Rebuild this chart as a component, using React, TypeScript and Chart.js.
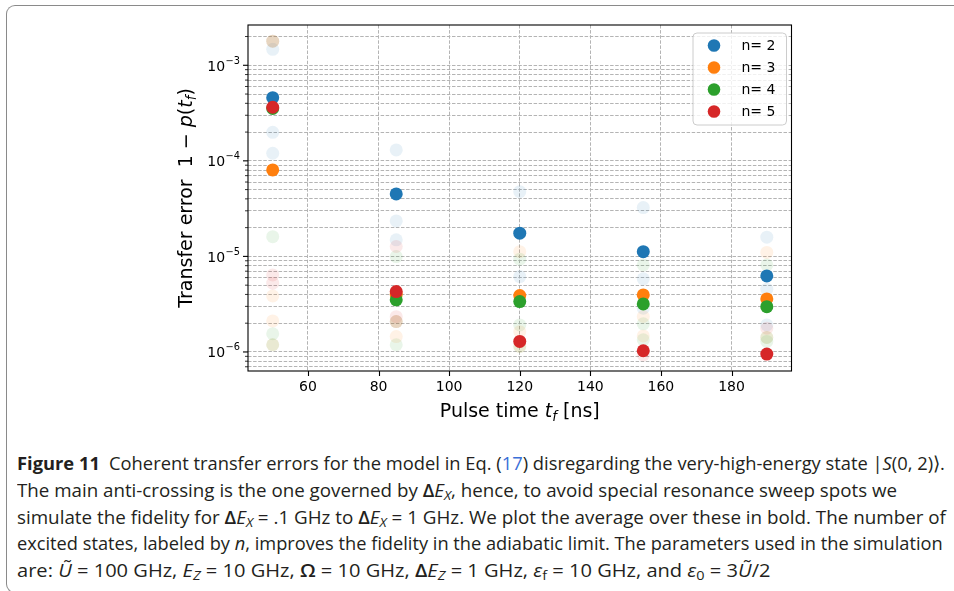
import React, { useEffect, useLayoutEffect, useRef } from "react";
import { Chart, registerables } from "chart.js";

Chart.register(...registerables);

// ---------- data ----------
const pulseTimes = [50, 85, 120, 155, 190];
const seriesLabels = ["n= 2", "n= 3", "n= 4", "n= 5"];
const seriesColors = ["#1f77b4", "#ff7f0e", "#2ca02c", "#d62728"];
const faintColors = [
  "rgba(31,119,180,0.1)",
  "rgba(255,127,14,0.1)",
  "rgba(44,160,44,0.1)",
  "rgba(214,39,40,0.1)",
];

// averaged (bold) transfer errors
const meanN2 = [4.58e-4, 4.51e-5, 1.75e-5, 1.12e-5, 6.25e-6];
const meanN3 = [8.03e-5, 4.0e-6, 3.89e-6, 3.95e-6, 3.59e-6];
const meanN4 = [3.53e-4, 3.51e-6, 3.37e-6, 3.18e-6, 2.98e-6];
const meanN5 = [3.64e-4, 4.28e-6, 1.29e-6, 1.03e-6, 9.5e-7];

// individual sweep values (faint), [pulse time, error]
const sweepN2: [number, number][] = [
  [50, 1.47e-3], [50, 1.99e-4], [50, 1.2e-4],
  [85, 1.3e-4], [85, 2.35e-5], [85, 1.49e-5],
  [120, 4.76e-5], [120, 6.15e-6],
  [155, 3.24e-5], [155, 5.82e-6], [155, 2.87e-6],
  [190, 1.59e-5], [190, 4.54e-6], [190, 1.92e-6],
];
const sweepN3: [number, number][] = [
  [50, 1.79e-3], [50, 3.86e-6], [50, 2.11e-6], [50, 1.19e-6],
  [85, 1.45e-6], [85, 2.08e-6],
  [120, 1.12e-5], [120, 1.63e-6], [120, 1.14e-6],
  [155, 2.35e-6], [155, 1.47e-6],
  [190, 1.1e-5], [190, 1.42e-6],
];
const sweepN4: [number, number][] = [
  [50, 1.79e-3], [50, 1.61e-5], [50, 1.55e-6], [50, 1.19e-6],
  [85, 9.96e-6], [85, 2.08e-6], [85, 1.19e-6],
  [120, 9.35e-6], [120, 1.92e-6], [120, 1.14e-6],
  [155, 8.15e-6], [155, 1.97e-6], [155, 1.34e-6],
  [190, 8.15e-6], [190, 1.29e-6], [190, 1.42e-6],
];
const sweepN5: [number, number][] = [
  [50, 1.79e-3], [50, 6.4e-6], [50, 5.25e-6],
  [85, 1.27e-5], [85, 2.34e-6], [85, 2.08e-6],
  [120, 1.29e-6],
  [155, 9.3e-7],
  [190, 1.77e-6],
];

const xTicks = [60, 80, 100, 120, 140, 160, 180];
const yMajorTicks = [1e-6, 1e-5, 1e-4, 1e-3];
const yTickBase = "10";
const yTickExponents = ["−6", "−5", "−4", "−3"];
const xLimits = [43, 197];
const yLimits = [6.32e-7, 2.64e-3];

type Run = { t: string; it?: boolean; sub?: boolean };
const xTitleRuns: Run[] = [
  { t: "Pulse time " },
  { t: "t", it: true },
  { t: "f", it: true, sub: true },
  { t: " [ns]" },
];
const yTitleRuns: Run[] = [
  { t: "Transfer error  1 − " },
  { t: "p", it: true },
  { t: "(" },
  { t: "t", it: true },
  { t: "f", it: true, sub: true },
  { t: ")" },
];

const means = [meanN2, meanN3, meanN4, meanN5];
const sweeps = [sweepN2, sweepN3, sweepN4, sweepN5];

// build y tick list (minor + major) within limits
const yTickValues: number[] = [];
for (let e = -7; e <= -3; e++) {
  for (let s = 1; s <= 9; s++) {
    const v = Number(`${s}e${e}`);
    if (v >= yLimits[0] && v <= yLimits[1]) yTickValues.push(v);
  }
}

const FONT = "DejaVu Sans";

function drawRuns(ctx: CanvasRenderingContext2D, runs: Run[], size: number, cx: number, base: number) {
  const fontFor = (r: Run) => `${r.it ? "italic " : ""}${r.sub ? size * 0.7 : size}px "${FONT}"`;
  let total = 0;
  const widths = runs.map((r) => {
    ctx.font = fontFor(r);
    const w = ctx.measureText(r.t).width;
    total += w;
    return w;
  });
  let x = cx - total / 2;
  ctx.textAlign = "left";
  ctx.textBaseline = "alphabetic";
  runs.forEach((r, i) => {
    ctx.font = fontFor(r);
    ctx.fillText(r.t, x, base + (r.sub ? size * 0.2 : 0));
    x += widths[i];
  });
}

const decorPlugin = {
  id: "decor",
  afterDraw(chart: any) {
    const { ctx, chartArea: a, scales } = chart;
    const xs = scales.x;
    const ys = scales.y;
    ctx.save();
    // frame
    ctx.strokeStyle = "#000";
    ctx.lineWidth = 1.1;
    ctx.strokeRect(a.left, a.top, a.right - a.left, a.bottom - a.top);
    // x ticks
    ctx.beginPath();
    xTicks.forEach((v) => {
      const px = Math.round(xs.getPixelForValue(v)) + 0.5;
      ctx.moveTo(px, a.bottom);
      ctx.lineTo(px, a.bottom + 5);
    });
    ctx.stroke();
    // y ticks
    ys.ticks.forEach((tk: any) => {
      const py = ys.getPixelForValue(tk.value);
      const major = yMajorTicks.includes(tk.value);
      ctx.lineWidth = major ? 1.1 : 0.8;
      ctx.beginPath();
      ctx.moveTo(a.left, py);
      ctx.lineTo(a.left - (major ? 5 : 3), py);
      ctx.stroke();
    });
    // y tick labels (mathtext style 10^-k)
    ctx.fillStyle = "#000";
    ctx.textBaseline = "alphabetic";
    yMajorTicks.forEach((v, i) => {
      const py = ys.getPixelForValue(v);
      const right = a.left - 8;
      ctx.font = `9.8px "${FONT}"`;
      const ew = ctx.measureText(yTickExponents[i]).width;
      ctx.textAlign = "right";
      ctx.fillText(yTickExponents[i], right, py - 1.5);
      ctx.font = `14px "${FONT}"`;
      ctx.fillText(yTickBase, right - ew - 0.5, py + 5.5);
    });
    // axis titles
    drawRuns(ctx, xTitleRuns, 19, (a.left + a.right) / 2, a.bottom + 46);
    ctx.save();
    ctx.translate(a.left - 56, (a.top + a.bottom) / 2);
    ctx.rotate(-Math.PI / 2);
    drawRuns(ctx, yTitleRuns, 19, 0, 0);
    ctx.restore();
    // legend
    const lw = 93.5, lh = 92;
    const lx = a.right - 5 - lw, ly = a.top + 8;
    ctx.beginPath();
    if ((ctx as any).roundRect) (ctx as any).roundRect(lx, ly, lw, lh, 4);
    else ctx.rect(lx, ly, lw, lh);
    ctx.fillStyle = "rgba(255,255,255,0.8)";
    ctx.fill();
    ctx.strokeStyle = "#cccccc";
    ctx.lineWidth = 1;
    ctx.stroke();
    ctx.font = `14px "${FONT}"`;
    ctx.textAlign = "left";
    ctx.textBaseline = "middle";
    seriesLabels.forEach((lab, i) => {
      const cy = ly + 12.5 + i * 22;
      ctx.beginPath();
      ctx.arc(lx + 21, cy, 6.3, 0, Math.PI * 2);
      ctx.fillStyle = seriesColors[i];
      ctx.fill();
      ctx.fillStyle = "#000";
      ctx.fillText(lab, lx + 48.5, cy + 1);
    });
    ctx.restore();
  },
};

function ChartView() {
  const ref = useRef<HTMLCanvasElement>(null);
  useEffect(() => {
    const datasets: any[] = [];
    sweeps.forEach((sw, i) => {
      datasets.push({
        label: seriesLabels[i] + " sweep",
        data: sw.map(([t, v]) => ({ x: t, y: v })),
        backgroundColor: faintColors[i],
        borderWidth: 0,
        pointRadius: 6.5,
        pointHoverRadius: 6.5,
        order: 20 + (3 - i),
      });
    });
    means.forEach((m, i) => {
      datasets.push({
        label: seriesLabels[i],
        data: pulseTimes.map((t, j) => ({ x: t, y: m[j] })),
        backgroundColor: seriesColors[i],
        borderWidth: 0,
        pointRadius: 6.5,
        pointHoverRadius: 6.5,
        order: 4 - i,
      });
    });
    const chart = new Chart(ref.current!, {
      type: "scatter",
      data: { datasets },
      options: {
        responsive: false,
        animation: false,
        events: [],
        layout: { padding: { left: 0, top: 25, right: 162.5, bottom: 0 } },
        plugins: { legend: { display: false }, tooltip: { enabled: false } },
        scales: {
          x: {
            type: "linear",
            min: xLimits[0],
            max: xLimits[1],
            afterBuildTicks: (s: any) => {
              s.ticks = xTicks.map((v) => ({ value: v }));
            },
            afterFit: (s: any) => {
              s.height = 59;
            },
            ticks: {
              font: { family: FONT, size: 14 },
              color: "#000",
              padding: 3,
              autoSkip: false,
              maxRotation: 0,
              callback: (v: any) => String(v),
            },
            grid: { color: "#b4b4b4", lineWidth: 1, drawTicks: true, tickLength: 5, tickColor: "rgba(0,0,0,0)" },
            border: { display: false, dash: [3.5, 1.6] },
          },
          y: {
            type: "logarithmic",
            min: yLimits[0],
            max: yLimits[1],
            afterBuildTicks: (s: any) => {
              s.ticks = yTickValues.map((v) => ({ value: v, major: yMajorTicks.includes(v) }));
            },
            afterFit: (s: any) => {
              s.width = 248;
            },
            ticks: {
              display: false,
              autoSkip: false,
            },
            grid: { color: "#b4b4b4", lineWidth: 1, drawTicks: false },
            border: { display: false, dash: [3.5, 1.6] },
          },
        },
      } as any,
      plugins: [decorPlugin as any],
    });
    return () => chart.destroy();
  }, []);
  return <canvas ref={ref} width={954} height={430} style={{ width: 954, height: 430, display: "block" }} />;
}

function CaptionLine({ top, right, children }: { top: number; right: number; children: React.ReactNode }) {
  const ref = useRef<HTMLSpanElement>(null);
  useLayoutEffect(() => {
    const fit = () => {
      const el = ref.current;
      if (!el) return;
      const w = el.offsetWidth;
      if (w > 0) el.style.transform = `scaleX(${(right - 17) / w})`;
    };
    fit();
    if ((document as any).fonts && (document as any).fonts.ready) (document as any).fonts.ready.then(fit);
  }, [right]);
  return (
    <div style={{ position: "absolute", left: 17, top, whiteSpace: "nowrap", lineHeight: "26px" }}>
      <span ref={ref} style={{ display: "inline-block", transformOrigin: "0 0" }}>
        {children}
      </span>
    </div>
  );
}

const Sub = ({ children, it = true }: { children: React.ReactNode; it?: boolean }) => (
  <span style={{ fontSize: "0.72em", position: "relative", top: "0.25em", fontStyle: it ? "italic" : "normal" }}>{children}</span>
);
const Big = ({ children }: { children: React.ReactNode }) => <span style={{ fontWeight: 600 }}>{children}</span>;

export default function App() {
  const lineTop = 450;
  const step = 26.75;
  return (
    <div
      style={{
        position: "absolute",
        left: 0,
        top: 0,
        width: 954,
        height: 591,
        overflow: "hidden",
        background: "#fff",
        fontFamily: '"Open Sans", "Noto Sans", sans-serif',
        fontSize: 18.5,
        color: "#231f20",
      }}
    >
      <div
        style={{
          position: "absolute",
          left: 6,
          top: 5,
          width: 1000,
          height: 586,
          borderTop: "1.5px solid #8a8a8a",
          borderLeft: "1.5px solid #8a8a8a",
          borderBottom: "1.5px solid #8a8a8a",
          borderTopLeftRadius: 9,
          borderBottomLeftRadius: 9,
        }}
      />
      <div style={{ position: "absolute", left: 0, top: 0 }}>
        <ChartView />
      </div>
      <CaptionLine top={lineTop} right={945}>
        <b>Figure 11</b>
        {"\u2002Coherent transfer errors for the model in Eq. ("}
        <span style={{ color: "#3a6fd8" }}>17</span>
        {") disregarding the very-high-energy state |"}
        <i>S</i>
        {"(0, 2)⟩."}
      </CaptionLine>
      <CaptionLine top={lineTop + step} right={897}>
        {"The main anti-crossing is the one governed by "}
        <Big>Δ</Big>
        <i>E</i>
        <Sub>X</Sub>
        {", hence, to avoid special resonance sweep spots we"}
      </CaptionLine>
      <CaptionLine top={lineTop + 2 * step} right={946}>
        {"simulate the fidelity for "}
        <Big>Δ</Big>
        <i>E</i>
        <Sub>X</Sub>
        {" = .1 GHz to "}
        <Big>Δ</Big>
        <i>E</i>
        <Sub>X</Sub>
        {" = 1 GHz. We plot the average over these in bold. The number of"}
      </CaptionLine>
      <CaptionLine top={lineTop + 3 * step} right={943}>
        {"excited states, labeled by "}
        <i>n</i>
        {", improves the fidelity in the adiabatic limit. The parameters used in the simulation"}
      </CaptionLine>
      <CaptionLine top={lineTop + 4 * step} right={770}>
        {"are: "}
        <i>{"U\u0303"}</i>
        {" = 100 GHz, "}
        <i>E</i>
        <Sub>Z</Sub>
        {" = 10 GHz, "}
        <Big>Ω</Big>
        {" = 10 GHz, "}
        <Big>Δ</Big>
        <i>E</i>
        <Sub>Z</Sub>
        {" = 1 GHz, "}
        <i>ε</i>
        <Sub it={false}>f</Sub>
        {" = 10 GHz, and "}
        <i>ε</i>
        <Sub it={false}>0</Sub>
        {" = 3"}
        <i>{"U\u0303"}</i>
        {"/2"}
      </CaptionLine>
    </div>
  );
}
